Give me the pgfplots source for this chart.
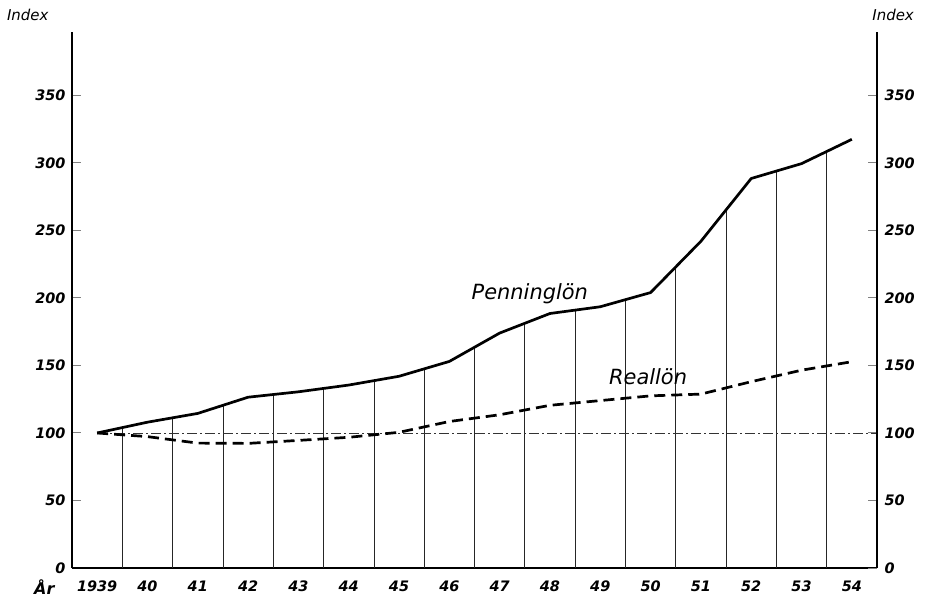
\documentclass[border=0pt]{standalone}
\usepackage{fontspec}
\setmainfont{DejaVu Sans}
\usepackage{pgfplots}
\pgfplotsset{compat=1.18}
\begin{document}
\begin{tikzpicture}
\useasboundingbox (-72bp,-31bp) rectangle (876bp,568bp);
\begin{axis}[
  scale only axis, width=805bp, height=536bp,
  xmin=38.5, xmax=54.5, ymin=0, ymax=397,
  axis lines*=left, axis line style={-, line width=1.6bp},
  xtick={39,...,54},
  xticklabels={1939,40,41,42,43,44,45,46,47,48,49,50,51,52,53,54},
  x tick style={draw=none},
  ytick={0,50,...,350},
  tick align=inside, major tick length=9bp,
  y tick style={line width=1bp},
  /pgf/number format/assume math mode=true,
  tick label style={font=\bfseries\itshape\fontsize{14.5}{14.5}\selectfont},
  xticklabel style={yshift=-9bp},
  yticklabel style={xshift=-3bp},
  clip=false,
]
% vertical year separators (from 0 up to the Penninglön curve)
\addplot[ycomb, line width=0.7bp, black!85, no marks] coordinates {
  (39.5,104) (40.5,111) (41.5,120) (42.5,128.5) (43.5,133) (44.5,139)
  (45.5,147.5) (46.5,163.5) (47.5,181) (48.5,191) (49.5,199)
  (50.5,223) (51.5,265) (52.5,294) (53.5,308.5)
};
% reference line at 100
\addplot[line width=0.6bp, black!80, dash pattern=on 10bp off 3bp on 2bp off 3bp] coordinates {(39,100) (54.5,100)};
% Penninglön
\addplot[line width=2.7bp, black, no marks, line join=round] coordinates {
  (39,100) (40,108) (41,114.5) (42,126.5) (43,130.5) (44,135.5) (45,142)
  (46,153) (47,174) (48,188.5) (49,193.5) (50,204) (51,242) (52,288.5)
  (53,299.5) (54,317.5)
};
% Reallön
\addplot[line width=2.7bp, black, no marks, dash pattern=on 11bp off 6bp] coordinates {
  (39,100) (40,97.3) (41,92.5) (42,92.3) (43,94.5) (44,96.8) (45,100.5)
  (46,108.5) (47,113.5) (48,120.5) (49,124) (50,127.5) (51,128.8) (52,138)
  (53,146.5) (54,152.8)
};
\node[font=\itshape\fontsize{21}{21}\selectfont] at (axis cs:47.6,203) {Penninglön};
\node[font=\itshape\fontsize{21}{21}\selectfont] at (axis cs:49.95,141.5) {Reallön};
\node[font=\itshape\fontsize{15}{15}\selectfont] at (axis cs:37.62,409.5) {Index};
\node[font=\itshape\fontsize{15}{15}\selectfont] at (axis cs:54.82,409.5) {Index};
\node[font=\bfseries\itshape\fontsize{16}{16}\selectfont, inner sep=0pt] at (axis cs:37.95,-14) {År};
\end{axis}
\begin{axis}[
  scale only axis, width=805bp, height=536bp,
  xmin=38.5, xmax=54.5, ymin=0, ymax=397,
  axis x line=none, axis y line*=right, axis line style={-, line width=1.6bp},
  ytick={0,50,...,350},
  tick align=inside, major tick length=9bp,
  y tick style={line width=1bp},
  /pgf/number format/assume math mode=true,
  tick label style={font=\bfseries\itshape\fontsize{14.5}{14.5}\selectfont},
  yticklabel style={xshift=4bp},
]
\addplot[draw=none] coordinates {(39,0)};
\end{axis}
\end{tikzpicture}
\end{document}
